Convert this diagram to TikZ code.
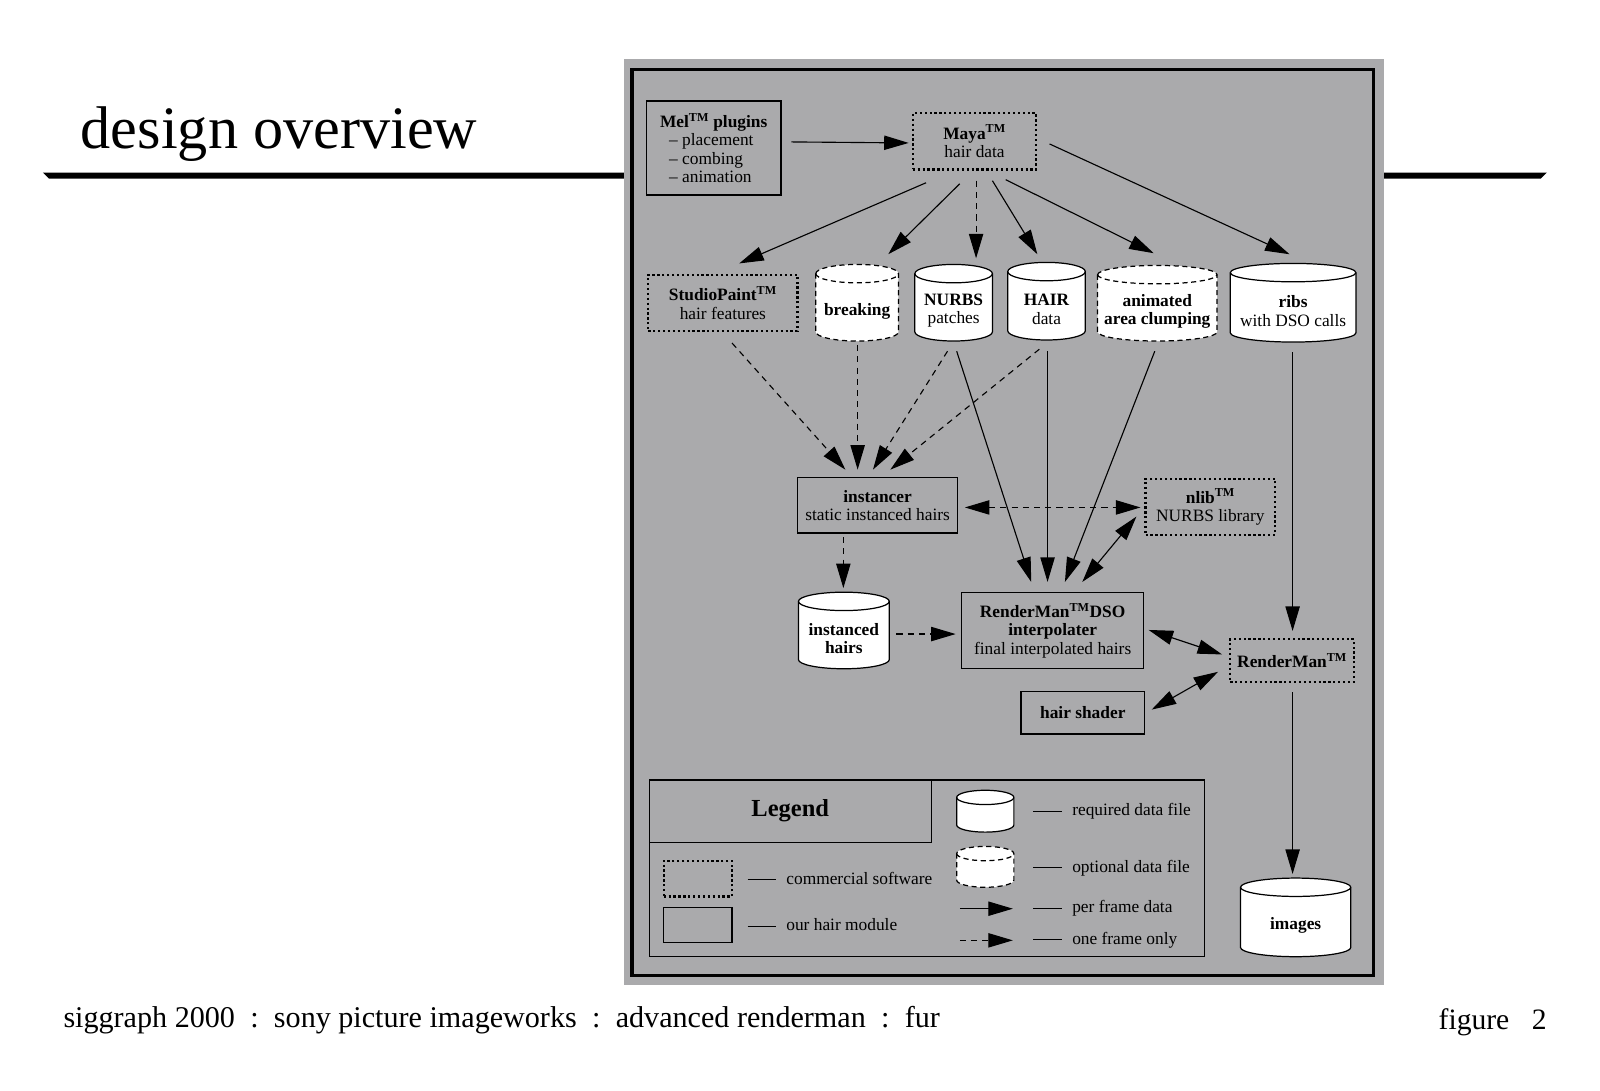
\documentclass[tikz,border=0pt]{standalone}
\usepackage{fontspec}
\setmainfont{Liberation Serif}
\usetikzlibrary{arrows.meta}
\definecolor{panel}{RGB}{170,170,172}
\newcommand\fs{\fontsize{17}{18}\selectfont}
\newcommand\tm{\textsuperscript{TM}}
% name, cx, cy(px), w, h, ry, style, text
\newcommand\cyl[8]{%
  \draw[#7] ({#2-#4/2},{-#3+#5/2-#6}) -- ({#2-#4/2},{-#3-#5/2+#6})
    arc[start angle=180,end angle=360,x radius={#4/2},y radius={#6}]
    -- ({#2+#4/2},{-#3+#5/2-#6})
    arc[start angle=0,end angle=180,x radius={#4/2},y radius={#6}] -- cycle;
  \draw[#7,fill=none] ({#2-#4/2},{-#3+#5/2-#6})
    arc[start angle=180,end angle=360,x radius={#4/2},y radius={#6}];
  \node[txt,minimum width=#4,minimum height={#5-16}] (#1) at (#2,{-#3-8}) {#8};}
\begin{document}
\begin{tikzpicture}[x=1pt,y=1pt,
  txt/.style={inner sep=0pt,align=center,font=\fs},
  box/.style={txt,draw,line width=1.2pt},
  comm/.style={txt,draw,line width=2.2pt,dash pattern=on 2.2pt off 2.6pt},
  reqcyl/.style={draw,fill=white,line width=1.2pt},
  optcyl/.style={draw,fill=white,line width=1.2pt,dash pattern=on 5pt off 3.5pt},
  tip/.tip={Triangle[length=24pt,width=14pt]},
  arr/.style={line width=1.1pt,-tip},
  darr/.style={arr,dash pattern=on 6pt off 5pt},
  biarr/.style={line width=1.1pt,tip-tip},
  dbiarr/.style={biarr,dash pattern=on 6pt off 5pt}]
\useasboundingbox (0,0) rectangle (1600,-1090);
\fill[white] (0,0) rectangle (1600,-1090);
\begin{scope}[transform canvas={scale=1.021}]
% header rule
\fill (42,-169) -- (1515,-169) -- (1509,-175) -- (48,-175) -- cycle;
\node[anchor=base west,inner sep=0pt,font=\fontsize{59}{60}\selectfont] (title) at (79,-145) {design overview};
% panel
\fill[panel] (611,-58) rectangle (1356,-965);
\draw[line width=3pt] (619,-68) rectangle (1345,-955);
% boxes
\node[box,minimum width=132,minimum height=92,align=left] (mel) at (699,-145)
  {\textbf{Mel\tm\ plugins}\\\hspace*{9pt}-- placement\\\hspace*{9pt}-- combing\\\hspace*{9pt}-- animation};
\node[comm,minimum width=121,minimum height=55] (maya) at (954.5,-138.5) {\textbf{Maya\tm}\\hair data};
\node[comm,minimum width=146,minimum height=55] (sp) at (708,-296.5) {\textbf{StudioPaint\tm}\\hair features};
\cyl{brk}{839.5}{296.5}{81}{75}{9}{optcyl}{\textbf{breaking}}
\cyl{nurbs}{934}{296.5}{76}{75}{9}{reqcyl}{\textbf{NURBS}\\patches}
\cyl{hair}{1025}{295}{76}{76}{9}{reqcyl}{\textbf{HAIR}\\data}
\cyl{anim}{1133.5}{297}{117}{74}{9}{optcyl}{\textbf{animated}\\\textbf{area clumping}}
\cyl{ribs}{1266.5}{296.5}{123}{77}{9}{reqcyl}{\textbf{ribs}\\with DSO calls}
\node[box,minimum width=157,minimum height=54] (inst) at (859.5,-495) {\textbf{instancer}\\static instanced hairs};
\node[comm,minimum width=127,minimum height=55] (nlib) at (1185.5,-496.5) {\textbf{nlib\tm}\\NURBS library};
\cyl{ih}{826.5}{617.5}{89}{75}{9}{reqcyl}{\textbf{instanced}\\\textbf{hairs}}
\node[box,minimum width=178,minimum height=75] (dso) at (1031,-617.5) {\textbf{RenderMan\tm DSO}\\\textbf{interpolater}\\final interpolated hairs};
\node[comm,minimum width=121,minimum height=42] (rm) at (1265.5,-647) {\textbf{RenderMan\tm}};
\node[box,minimum width=121,minimum height=42] (shader) at (1060.5,-698) {\textbf{hair shader}};
\cyl{img}{1269}{898.5}{108}{77}{9}{reqcyl}{\textbf{images}}
% connectors
\draw[arr] ([shift={(76,6)}]mel.center) -- ([shift={(-64.5,-1.5)}]maya.center);
\draw[arr] ([shift={(-47.5,-40.5)}]maya.center) -- ([shift={(16,38.5)}]sp.center);
\draw[arr] ([shift={(-14.5,-41.5)}]maya.center) -- ([shift={(30.5,55.5)}]brk.center);
\draw[darr] ([shift={(1.5,-38.5)}]maya.center) -- ([shift={(22,51.5)}]nurbs.center);
\draw[arr] ([shift={(17.5,-38.5)}]maya.center) -- ([shift={(-9,54)}]hair.center);
\draw[arr] ([shift={(30.5,-37.5)}]maya.center) -- ([shift={(-3.5,57)}]anim.center);
\draw[arr] ([shift={(73.5,-2.5)}]maya.center) -- ([shift={(-3.5,55.5)}]ribs.center);
\draw[darr] ([shift={(9,-39.5)}]sp.center) -- ([shift={(-31.5,35)}]inst.center);
\draw[darr] ([shift={(0.5,-33.5)}]brk.center) -- ([shift={(-19.5,35)}]inst.center);
\draw[darr] ([shift={(-6,-39.5)}]nurbs.center) -- ([shift={(-4.5,35)}]inst.center);
\draw[darr] ([shift={(-7,-39)}]hair.center) -- ([shift={(12.5,35)}]inst.center);
\draw[arr] ([shift={(3,-39.5)}]nurbs.center) -- ([shift={(-21,47.5)}]dso.center);
\draw[arr] ([shift={(1,-41)}]hair.center) -- ([shift={(-5,47.5)}]dso.center);
\draw[arr] ([shift={(-2.5,-39)}]anim.center) -- ([shift={(12,47.5)}]dso.center);
\draw[dbiarr] ([shift={(85.5,-2)}]inst.center) -- ([shift={(-68.5,-0.5)}]nlib.center);
\draw[biarr] ([shift={(-72.5,-9.5)}]nlib.center) -- ([shift={(29,47.5)}]dso.center);
\draw[darr] ([shift={(-33.5,-31)}]inst.center) -- ([shift={(-0.5,49.5)}]ih.center);
\draw[darr] ([shift={(51.5,4.5)}]ih.center) -- ([shift={(-95,-3.5)}]dso.center);
\draw[biarr] ([shift={(94,0.5)}]dso.center) -- ([shift={(-68.5,6)}]rm.center);
\draw[biarr] ([shift={(67.5,3)}]shader.center) -- ([shift={(-72.5,-11)}]rm.center);
\draw[arr] ([shift={(-0.5,-40.5)}]ribs.center) -- ([shift={(0.5,29)}]rm.center);
\draw[arr] ([shift={(0.5,-31)}]rm.center) -- ([shift={(-3,50.5)}]img.center);
% legend
\node[draw,line width=1.2pt,minimum width=544,minimum height=173,inner sep=0pt] (legend) at (908,-850.5) {};
\node[draw,line width=1.2pt,minimum width=276,minimum height=61,inner sep=0pt,font=\fontsize{24}{26}\selectfont] (legtitle) at (774,-794.5) {\textbf{Legend}};
\node[comm,minimum width=67,minimum height=35] (lgc) at (683.5,-860.5) {};
\node[box,minimum width=67,minimum height=34] (lgo) at (683.5,-906) {};
\node[txt,anchor=west] (lt1) at (732,-860) {\rule[4.5pt]{28pt}{0.6pt}\hspace{10pt}commercial software};
\node[txt,anchor=west] (lt2) at (732,-906) {\rule[4.5pt]{28pt}{0.6pt}\hspace{10pt}our hair module};
\cyl{lreq}{965}{794.5}{56}{41}{7}{reqcyl}{}
\cyl{lopt}{965}{849}{56}{40}{7}{optcyl}{}
\node[txt,anchor=west] (lt3) at (1012,-795) {\rule[4.5pt]{28pt}{0.6pt}\hspace{10pt}required data file};
\node[txt,anchor=west] (lt4) at (1012,-850) {\rule[4.5pt]{28pt}{0.6pt}\hspace{10pt}optional data file};
\node[txt,anchor=west] (lt5) at (1012,-890) {\rule[4.5pt]{28pt}{0.6pt}\hspace{10pt}per frame data};
\node[txt,anchor=west] (lt6) at (1012,-921) {\rule[4.5pt]{28pt}{0.6pt}\hspace{10pt}one frame only};
\coordinate (la1) at (940,-890); \coordinate (la2) at (992,-890);
\coordinate (lb1) at (940,-921); \coordinate (lb2) at (992,-921);
\draw[arr] (la1) -- (la2);
\draw[darr] (lb1) -- (lb2);
% footer
\node[anchor=base west,inner sep=0pt,font=\fontsize{29.5}{30}\selectfont] (foot) at (62,-1006)
  {siggraph 2000\hspace{15pt}:\hspace{15pt}sony picture imageworks\hspace{15pt}:\hspace{15pt}advanced renderman\hspace{15pt}:\hspace{15pt}fur};
\node[anchor=base east,inner sep=0pt,font=\fontsize{29}{30}\selectfont] (fig) at (1515,-1008) {figure\hspace{22pt}2};
\end{scope}
\end{tikzpicture}
\end{document}
